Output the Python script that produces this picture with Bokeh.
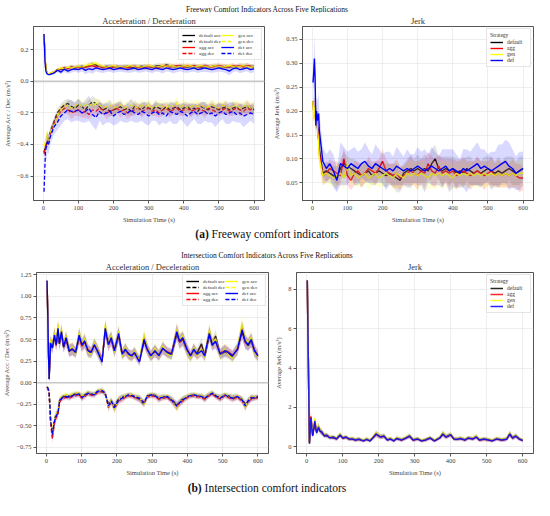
import numpy as np
from bokeh.plotting import figure
from bokeh.models import Range1d, FixedTicker, Legend, LegendItem, Div, Span
from bokeh.layouts import column, row
from bokeh.embed import file_html
from bokeh.resources import INLINE

# ---------------- data ----------------
strategies = ["default", "agg", "gen", "def"]
strategy_colors = ["black", "red", "yellow", "blue"]
band_alphas = [0.10, 0.15, 0.16, 0.15]

fw_t = [2, 4, 6, 8, 10, 12, 14, 16, 18] + list(range(20, 610, 10))

fw_acc_default = [0.30, 0.21, 0.12, 0.075, 0.058, 0.052, 0.049, 0.048, 0.048,
                  0.050, 0.056, 0.070, 0.076, 0.082, 0.086, 0.090, 0.086, 0.090,
                  0.095, 0.090, 0.100, 0.110, 0.105, 0.095, 0.090, 0.096, 0.090, 0.095,
                  0.090, 0.086, 0.092, 0.096, 0.090, 0.086, 0.092, 0.096, 0.090, 0.095,
                  0.090, 0.096, 0.100, 0.094, 0.105, 0.100, 0.094, 0.090, 0.100, 0.095,
                  0.090, 0.096, 0.090, 0.095, 0.090, 0.096, 0.090, 0.095, 0.100, 0.095,
                  0.090, 0.096, 0.090, 0.095, 0.090, 0.100, 0.095, 0.100, 0.095, 0.095]
fw_acc_agg = [0.30, 0.21, 0.12, 0.075, 0.058, 0.052, 0.049, 0.048, 0.049,
              0.052, 0.060, 0.075, 0.080, 0.085, 0.080, 0.090, 0.085, 0.090,
              0.085, 0.090, 0.095, 0.100, 0.090, 0.095, 0.085, 0.090, 0.085, 0.090,
              0.095, 0.085, 0.090, 0.085, 0.090, 0.095, 0.090, 0.085, 0.090, 0.095,
              0.090, 0.085, 0.090, 0.095, 0.100, 0.090, 0.095, 0.100, 0.095, 0.090,
              0.100, 0.095, 0.100, 0.090, 0.095, 0.100, 0.095, 0.090, 0.095, 0.100,
              0.095, 0.090, 0.095, 0.100, 0.095, 0.100, 0.090, 0.100, 0.095, 0.090]
fw_acc_gen = [0.30, 0.21, 0.12, 0.075, 0.058, 0.052, 0.050, 0.049, 0.050,
              0.052, 0.060, 0.075, 0.085, 0.080, 0.090, 0.085, 0.090, 0.095,
              0.090, 0.100, 0.105, 0.110, 0.115, 0.100, 0.095, 0.090, 0.095, 0.100,
              0.090, 0.095, 0.090, 0.095, 0.100, 0.090, 0.095, 0.090, 0.095, 0.100,
              0.095, 0.090, 0.095, 0.100, 0.095, 0.100, 0.095, 0.090, 0.095, 0.100,
              0.095, 0.100, 0.090, 0.095, 0.100, 0.095, 0.090, 0.095, 0.100, 0.095,
              0.090, 0.095, 0.100, 0.095, 0.090, 0.095, 0.100, 0.095, 0.090, 0.095]
fw_acc_def = [0.30, 0.17, 0.09, 0.060, 0.050, 0.046, 0.044, 0.043, 0.043,
              0.045, 0.052, 0.072, 0.058, 0.078, 0.065, 0.075, 0.080, 0.075,
              0.085, 0.070, 0.080, 0.075, 0.085, 0.080, 0.075, 0.080, 0.085, 0.075,
              0.080, 0.085, 0.080, 0.075, 0.080, 0.085, 0.075, 0.080, 0.085, 0.080,
              0.075, 0.085, 0.080, 0.075, 0.085, 0.080, 0.075, 0.080, 0.085, 0.080,
              0.075, 0.080, 0.085, 0.075, 0.080, 0.085, 0.080, 0.075, 0.080, 0.085,
              0.080, 0.075, 0.065, 0.080, 0.085, 0.075, 0.080, 0.085, 0.075, 0.080]
fw_acc_spread_def = [0.010, 0.010, 0.010, 0.008, 0.006, 0.005, 0.005, 0.005, 0.005,
                     0.006, 0.008, 0.012, 0.015, 0.018, 0.016, 0.020, 0.018, 0.022,
                     0.020, 0.024, 0.022, 0.026, 0.020, 0.024, 0.022, 0.020, 0.024, 0.022,
                     0.020, 0.024, 0.022, 0.020, 0.025, 0.022, 0.020, 0.024, 0.022, 0.020,
                     0.024, 0.022, 0.020, 0.025, 0.022, 0.020, 0.024, 0.022, 0.020, 0.024,
                     0.022, 0.020, 0.024, 0.022, 0.020, 0.025, 0.022, 0.020, 0.024, 0.022,
                     0.020, 0.024, 0.026, 0.022, 0.020, 0.024, 0.022, 0.020, 0.024, 0.022]
fw_acc_spread_other = [0.008, 0.008, 0.008, 0.006, 0.005, 0.004, 0.004, 0.004, 0.004,
                       0.005, 0.006, 0.010, 0.012, 0.014, 0.012, 0.015, 0.014, 0.016,
                       0.015, 0.016, 0.018, 0.016, 0.015, 0.017, 0.015, 0.016, 0.018, 0.015,
                       0.016, 0.015, 0.017, 0.016, 0.015, 0.018, 0.016, 0.015, 0.017, 0.016,
                       0.015, 0.017, 0.016, 0.018, 0.015, 0.016, 0.017, 0.015, 0.016, 0.018,
                       0.016, 0.015, 0.017, 0.016, 0.018, 0.015, 0.016, 0.017, 0.015, 0.016,
                       0.018, 0.016, 0.015, 0.017, 0.016, 0.015, 0.018, 0.016, 0.015, 0.016]

fw_dec_default = [-0.45, -0.43, -0.41, -0.40, -0.39, -0.38, -0.37, -0.36, -0.34,
                  -0.32, -0.26, -0.20, -0.17, -0.15, -0.14, -0.16, -0.17, -0.15,
                  -0.16, -0.18, -0.15, -0.13, -0.14, -0.16, -0.18, -0.17, -0.19, -0.18,
                  -0.17, -0.16, -0.18, -0.17, -0.19, -0.16, -0.17, -0.18, -0.16, -0.17,
                  -0.18, -0.16, -0.17, -0.18, -0.16, -0.18, -0.17, -0.16, -0.18, -0.17,
                  -0.16, -0.18, -0.17, -0.19, -0.16, -0.17, -0.18, -0.16, -0.17, -0.18,
                  -0.17, -0.16, -0.18, -0.17, -0.16, -0.18, -0.17, -0.16, -0.17, -0.18]
fw_dec_agg = [-0.46, -0.44, -0.42, -0.40, -0.39, -0.38, -0.37, -0.36, -0.35,
              -0.33, -0.27, -0.22, -0.19, -0.17, -0.18, -0.20, -0.19, -0.18,
              -0.20, -0.19, -0.21, -0.18, -0.19, -0.17, -0.18, -0.20, -0.19, -0.18,
              -0.17, -0.19, -0.18, -0.20, -0.19, -0.18, -0.17, -0.19, -0.18, -0.17,
              -0.19, -0.18, -0.20, -0.18, -0.17, -0.19, -0.18, -0.17, -0.19, -0.18,
              -0.17, -0.19, -0.18, -0.17, -0.18, -0.19, -0.17, -0.18, -0.19, -0.17,
              -0.18, -0.17, -0.19, -0.18, -0.17, -0.18, -0.19, -0.17, -0.18, -0.17]
fw_dec_gen = [-0.41, -0.40, -0.38, -0.36, -0.33, -0.35, -0.38, -0.36, -0.34,
              -0.32, -0.28, -0.22, -0.18, -0.16, -0.15, -0.17, -0.16, -0.14,
              -0.16, -0.15, -0.14, -0.16, -0.14, -0.15, -0.17, -0.16, -0.15, -0.17,
              -0.16, -0.15, -0.17, -0.16, -0.15, -0.16, -0.17, -0.15, -0.16, -0.15,
              -0.17, -0.16, -0.15, -0.16, -0.17, -0.15, -0.16, -0.14, -0.16, -0.15,
              -0.17, -0.16, -0.15, -0.16, -0.15, -0.17, -0.16, -0.15, -0.16, -0.17,
              -0.15, -0.16, -0.17, -0.16, -0.15, -0.17, -0.16, -0.15, -0.17, -0.16]
fw_dec_def = [-0.70, -0.58, -0.45, -0.42, -0.41, -0.38, -0.40, -0.39, -0.37,
              -0.35, -0.29, -0.26, -0.22, -0.20, -0.18, -0.19, -0.19, -0.18,
              -0.20, -0.19, -0.17, -0.21, -0.23, -0.19, -0.21, -0.20, -0.19, -0.22,
              -0.20, -0.19, -0.21, -0.20, -0.18, -0.20, -0.21, -0.19, -0.20, -0.22,
              -0.20, -0.19, -0.21, -0.20, -0.22, -0.19, -0.20, -0.21, -0.19, -0.20,
              -0.22, -0.20, -0.19, -0.21, -0.20, -0.19, -0.21, -0.20, -0.22, -0.20,
              -0.19, -0.21, -0.20, -0.19, -0.21, -0.20, -0.22, -0.21, -0.20, -0.21]
fw_dec_spread_def = [0.02, 0.04, 0.06, 0.07, 0.08, 0.07, 0.06, 0.06, 0.05,
                     0.05, 0.05, 0.05, 0.06, 0.05, 0.06, 0.07, 0.06, 0.07,
                     0.06, 0.07, 0.08, 0.07, 0.08, 0.06, 0.07, 0.06, 0.07, 0.06,
                     0.07, 0.06, 0.05, 0.06, 0.07, 0.06, 0.05, 0.06, 0.07, 0.06,
                     0.05, 0.06, 0.07, 0.06, 0.05, 0.06, 0.07, 0.06, 0.05, 0.06,
                     0.07, 0.06, 0.05, 0.06, 0.07, 0.06, 0.05, 0.06, 0.07, 0.06,
                     0.05, 0.06, 0.07, 0.06, 0.05, 0.06, 0.07, 0.06, 0.05, 0.06]
fw_dec_spread_other = [0.03, 0.03, 0.03, 0.03, 0.03, 0.03, 0.03, 0.03, 0.03,
                       0.03, 0.03, 0.03, 0.03, 0.03, 0.03, 0.04, 0.03, 0.04,
                       0.03, 0.04, 0.03, 0.04, 0.03, 0.04, 0.03, 0.04, 0.03, 0.04,
                       0.03, 0.04, 0.03, 0.04, 0.03, 0.04, 0.03, 0.04, 0.03, 0.04,
                       0.03, 0.04, 0.03, 0.04, 0.03, 0.04, 0.03, 0.04, 0.03, 0.04,
                       0.03, 0.04, 0.03, 0.04, 0.03, 0.04, 0.03, 0.04, 0.03, 0.04,
                       0.03, 0.04, 0.03, 0.04, 0.03, 0.04, 0.03, 0.04, 0.03, 0.04]

fw_jerk_default = [0.22, 0.20, 0.21, 0.20, 0.18, 0.19, 0.17, 0.16, 0.14,
                   0.12, 0.070, 0.075, 0.070, 0.065, 0.060, 0.080, 0.090, 0.085,
                   0.080, 0.075, 0.070, 0.065, 0.070, 0.075, 0.065, 0.070, 0.075, 0.070,
                   0.065, 0.070, 0.065, 0.060, 0.055, 0.070, 0.075, 0.080, 0.075, 0.080,
                   0.075, 0.080, 0.075, 0.090, 0.100, 0.080, 0.075, 0.080, 0.075, 0.080,
                   0.070, 0.075, 0.070, 0.080, 0.075, 0.070, 0.075, 0.070, 0.075, 0.080,
                   0.075, 0.070, 0.075, 0.070, 0.075, 0.080, 0.075, 0.070, 0.075, 0.080]
fw_jerk_agg = [0.22, 0.20, 0.21, 0.19, 0.18, 0.19, 0.17, 0.16, 0.14,
               0.11, 0.065, 0.070, 0.080, 0.075, 0.070, 0.065, 0.100, 0.065,
               0.055, 0.070, 0.075, 0.065, 0.070, 0.080, 0.075, 0.070, 0.080, 0.095,
               0.075, 0.070, 0.065, 0.070, 0.060, 0.065, 0.070, 0.075, 0.070, 0.065,
               0.075, 0.070, 0.090, 0.075, 0.070, 0.085, 0.070, 0.075, 0.070, 0.075,
               0.065, 0.070, 0.075, 0.070, 0.065, 0.070, 0.075, 0.070, 0.065, 0.070,
               0.075, 0.065, 0.070, 0.065, 0.070, 0.065, 0.070, 0.065, 0.060, 0.060]
fw_jerk_gen = [0.22, 0.18, 0.21, 0.20, 0.19, 0.20, 0.17, 0.15, 0.13,
               0.10, 0.065, 0.070, 0.065, 0.060, 0.065, 0.070, 0.060, 0.090,
               0.065, 0.070, 0.060, 0.065, 0.070, 0.060, 0.065, 0.070, 0.060, 0.065,
               0.070, 0.065, 0.060, 0.070, 0.065, 0.060, 0.070, 0.065, 0.070, 0.065,
               0.070, 0.065, 0.060, 0.070, 0.065, 0.070, 0.065, 0.070, 0.065, 0.060,
               0.070, 0.065, 0.070, 0.065, 0.070, 0.065, 0.070, 0.065, 0.070, 0.065,
               0.070, 0.065, 0.070, 0.065, 0.070, 0.065, 0.070, 0.065, 0.070, 0.070]
fw_jerk_def = [0.26, 0.28, 0.31, 0.27, 0.17, 0.20, 0.18, 0.19, 0.195,
               0.16, 0.095, 0.080, 0.090, 0.075, 0.055, 0.090, 0.085, 0.080,
               0.090, 0.085, 0.080, 0.090, 0.095, 0.085, 0.080, 0.090, 0.085, 0.080,
               0.075, 0.080, 0.075, 0.085, 0.080, 0.075, 0.080, 0.075, 0.080, 0.085,
               0.080, 0.075, 0.080, 0.085, 0.080, 0.075, 0.080, 0.085, 0.075, 0.080,
               0.075, 0.070, 0.080, 0.075, 0.080, 0.085, 0.090, 0.080, 0.085, 0.080,
               0.075, 0.080, 0.085, 0.090, 0.095, 0.085, 0.080, 0.070, 0.075, 0.080]
fw_jerk_spread_def = [0.02, 0.03, 0.05, 0.04, 0.03, 0.03, 0.04, 0.04, 0.04,
                      0.04, 0.03, 0.03, 0.03, 0.035, 0.025, 0.045, 0.04, 0.035,
                      0.03, 0.04, 0.035, 0.03, 0.04, 0.035, 0.03, 0.04, 0.035, 0.03,
                      0.04, 0.035, 0.03, 0.04, 0.035, 0.03, 0.04, 0.035, 0.03, 0.04,
                      0.035, 0.045, 0.03, 0.04, 0.035, 0.03, 0.04, 0.035, 0.045, 0.04,
                      0.035, 0.03, 0.04, 0.045, 0.035, 0.04, 0.045, 0.04, 0.035, 0.03,
                      0.04, 0.035, 0.045, 0.04, 0.045, 0.05, 0.04, 0.035, 0.04, 0.035]
fw_jerk_spread_other = [0.02, 0.02, 0.02, 0.02, 0.02, 0.02, 0.02, 0.02, 0.02,
                        0.02, 0.02, 0.02, 0.02, 0.02, 0.025, 0.02, 0.025, 0.02,
                        0.02, 0.025, 0.02, 0.025, 0.02, 0.025, 0.02, 0.025, 0.02, 0.025,
                        0.025, 0.02, 0.025, 0.03, 0.025, 0.02, 0.025, 0.03, 0.025, 0.03,
                        0.025, 0.03, 0.025, 0.03, 0.03, 0.025, 0.03, 0.025, 0.03, 0.025,
                        0.03, 0.025, 0.03, 0.025, 0.03, 0.025, 0.03, 0.025, 0.03, 0.025,
                        0.03, 0.025, 0.03, 0.025, 0.03, 0.025, 0.03, 0.025, 0.03, 0.025]

in_t = [2, 4, 6, 8, 10, 12, 17, 23, 28, 33,
        37, 43, 49, 56, 65, 74, 83, 93, 101, 109,
        118, 127, 136, 145, 158, 167, 176, 184, 193, 205,
        215, 224, 233, 242, 250, 264, 277, 286, 296, 308,
        319, 330, 343, 355, 370, 378, 387, 400, 409, 418,
        427, 440, 449, 462, 471, 480, 493, 506, 515, 528,
        542, 555, 564, 572, 581, 590, 600]

in_acc_default = [1.18, 0.80, 0.35, 0.05, 0.26, 0.47, 0.41, 0.54, 0.45, 0.60,
                  0.45, 0.58, 0.41, 0.51, 0.36, 0.40, 0.34, 0.53, 0.43, 0.49,
                  0.36, 0.34, 0.45, 0.36, 0.26, 0.60, 0.48, 0.51, 0.36, 0.55,
                  0.32, 0.38, 0.34, 0.30, 0.36, 0.27, 0.48, 0.40, 0.30, 0.38,
                  0.32, 0.41, 0.34, 0.32, 0.57, 0.47, 0.50, 0.36, 0.30, 0.38,
                  0.34, 0.45, 0.30, 0.55, 0.43, 0.54, 0.32, 0.36, 0.34, 0.30,
                  0.40, 0.59, 0.47, 0.43, 0.49, 0.36, 0.30]
in_acc_agg = [1.18, 0.80, 0.35, 0.05, 0.27, 0.48, 0.42, 0.56, 0.43, 0.61,
              0.47, 0.57, 0.43, 0.50, 0.38, 0.38, 0.36, 0.54, 0.42, 0.47,
              0.38, 0.36, 0.43, 0.38, 0.27, 0.61, 0.45, 0.50, 0.38, 0.56,
              0.34, 0.38, 0.32, 0.32, 0.34, 0.25, 0.52, 0.38, 0.32, 0.36,
              0.32, 0.39, 0.36, 0.34, 0.60, 0.47, 0.51, 0.38, 0.32, 0.38,
              0.32, 0.38, 0.32, 0.58, 0.45, 0.47, 0.34, 0.38, 0.36, 0.32,
              0.38, 0.63, 0.47, 0.45, 0.49, 0.38, 0.32]
in_acc_gen = [1.18, 0.80, 0.36, 0.06, 0.28, 0.50, 0.43, 0.58, 0.47, 0.68,
              0.48, 0.62, 0.44, 0.55, 0.38, 0.42, 0.33, 0.58, 0.46, 0.52,
              0.35, 0.33, 0.47, 0.38, 0.25, 0.67, 0.46, 0.55, 0.35, 0.60,
              0.30, 0.42, 0.31, 0.30, 0.37, 0.26, 0.56, 0.41, 0.29, 0.40,
              0.30, 0.43, 0.33, 0.31, 0.62, 0.50, 0.55, 0.35, 0.28, 0.41,
              0.31, 0.39, 0.29, 0.61, 0.46, 0.51, 0.31, 0.39, 0.33, 0.28,
              0.41, 0.68, 0.50, 0.46, 0.53, 0.35, 0.30]
in_acc_def = [1.18, 0.80, 0.35, 0.04, 0.25, 0.46, 0.40, 0.55, 0.44, 0.63,
              0.46, 0.59, 0.42, 0.52, 0.37, 0.39, 0.35, 0.55, 0.44, 0.48,
              0.37, 0.35, 0.44, 0.37, 0.24, 0.63, 0.44, 0.52, 0.37, 0.57,
              0.33, 0.39, 0.33, 0.31, 0.35, 0.24, 0.50, 0.39, 0.31, 0.37,
              0.31, 0.40, 0.35, 0.33, 0.59, 0.48, 0.52, 0.37, 0.31, 0.39,
              0.33, 0.37, 0.31, 0.57, 0.44, 0.48, 0.33, 0.37, 0.35, 0.31,
              0.39, 0.61, 0.48, 0.44, 0.50, 0.37, 0.31]
in_acc_spread = [0.02, 0.05, 0.08, 0.05, 0.07, 0.08, 0.07, 0.09, 0.07, 0.10,
                 0.08, 0.09, 0.07, 0.08, 0.07, 0.07, 0.06, 0.09, 0.07, 0.08,
                 0.07, 0.06, 0.07, 0.07, 0.06, 0.10, 0.08, 0.08, 0.07, 0.09,
                 0.06, 0.07, 0.06, 0.06, 0.06, 0.05, 0.08, 0.07, 0.06, 0.07,
                 0.06, 0.07, 0.06, 0.06, 0.09, 0.08, 0.08, 0.07, 0.06, 0.07,
                 0.06, 0.07, 0.06, 0.09, 0.07, 0.08, 0.06, 0.07, 0.06, 0.06,
                 0.07, 0.10, 0.08, 0.07, 0.08, 0.07, 0.06]

in_dec_default = [-0.05, -0.06, -0.08, -0.13, -0.27, -0.44, -0.58, -0.43, -0.36, -0.34,
                  -0.21, -0.17, -0.16, -0.15, -0.16, -0.14, -0.13, -0.14, -0.16, -0.14,
                  -0.12, -0.14, -0.13, -0.11, -0.10, -0.13, -0.25, -0.22, -0.27, -0.19,
                  -0.17, -0.15, -0.15, -0.14, -0.17, -0.19, -0.25, -0.15, -0.15, -0.14,
                  -0.19, -0.16, -0.17, -0.19, -0.26, -0.22, -0.19, -0.17, -0.14, -0.15,
                  -0.16, -0.15, -0.19, -0.13, -0.13, -0.16, -0.17, -0.15, -0.15, -0.17,
                  -0.17, -0.19, -0.25, -0.22, -0.17, -0.18, -0.17]
in_dec_agg = [-0.05, -0.07, -0.09, -0.14, -0.28, -0.46, -0.65, -0.47, -0.40, -0.37,
              -0.23, -0.19, -0.18, -0.17, -0.18, -0.16, -0.15, -0.14, -0.18, -0.16,
              -0.13, -0.14, -0.15, -0.11, -0.10, -0.13, -0.29, -0.22, -0.30, -0.21,
              -0.19, -0.17, -0.15, -0.16, -0.17, -0.19, -0.24, -0.17, -0.15, -0.16,
              -0.19, -0.18, -0.17, -0.21, -0.28, -0.24, -0.21, -0.17, -0.16, -0.15,
              -0.16, -0.17, -0.19, -0.15, -0.13, -0.16, -0.19, -0.15, -0.17, -0.19,
              -0.17, -0.21, -0.28, -0.22, -0.19, -0.18, -0.17]
in_dec_gen = [-0.05, -0.06, -0.07, -0.11, -0.23, -0.40, -0.56, -0.42, -0.35, -0.33,
              -0.20, -0.16, -0.15, -0.14, -0.15, -0.13, -0.12, -0.12, -0.15, -0.13,
              -0.11, -0.12, -0.13, -0.09, -0.08, -0.11, -0.28, -0.20, -0.31, -0.19,
              -0.17, -0.15, -0.13, -0.14, -0.15, -0.17, -0.25, -0.15, -0.13, -0.14,
              -0.17, -0.16, -0.15, -0.19, -0.30, -0.22, -0.19, -0.15, -0.14, -0.13,
              -0.14, -0.15, -0.17, -0.13, -0.11, -0.14, -0.17, -0.13, -0.15, -0.17,
              -0.15, -0.19, -0.29, -0.20, -0.17, -0.16, -0.15]
in_dec_def = [-0.05, -0.06, -0.08, -0.12, -0.25, -0.42, -0.60, -0.45, -0.38, -0.36,
              -0.22, -0.18, -0.17, -0.16, -0.17, -0.15, -0.14, -0.13, -0.17, -0.15,
              -0.12, -0.13, -0.14, -0.10, -0.09, -0.12, -0.27, -0.21, -0.29, -0.20,
              -0.18, -0.16, -0.14, -0.15, -0.16, -0.18, -0.23, -0.16, -0.14, -0.15,
              -0.18, -0.17, -0.16, -0.20, -0.27, -0.23, -0.20, -0.16, -0.15, -0.14,
              -0.15, -0.16, -0.18, -0.14, -0.12, -0.15, -0.18, -0.14, -0.16, -0.18,
              -0.16, -0.20, -0.27, -0.21, -0.18, -0.17, -0.16]
in_dec_spread = [0.01, 0.02, 0.02, 0.03, 0.04, 0.05, 0.06, 0.05, 0.05, 0.04,
                 0.04, 0.03, 0.03, 0.03, 0.03, 0.03, 0.03, 0.03, 0.04, 0.03,
                 0.03, 0.03, 0.03, 0.03, 0.03, 0.03, 0.05, 0.04, 0.05, 0.04,
                 0.04, 0.03, 0.03, 0.03, 0.03, 0.04, 0.04, 0.03, 0.03, 0.03,
                 0.04, 0.03, 0.03, 0.04, 0.05, 0.04, 0.04, 0.03, 0.03, 0.03,
                 0.03, 0.03, 0.04, 0.03, 0.03, 0.03, 0.04, 0.03, 0.03, 0.04,
                 0.03, 0.04, 0.05, 0.04, 0.04, 0.03, 0.03]

in_jerk_default = [8.45, 5.70, 2.90, 0.20, 0.80, 1.50, 0.60, 1.20, 0.75, 1.05,
                   0.85, 0.70, 0.60, 0.55, 0.50, 0.45, 0.42, 0.62, 0.45, 0.48,
                   0.40, 0.42, 0.36, 0.40, 0.32, 0.40, 0.32, 0.48, 0.68, 0.52,
                   0.55, 0.38, 0.42, 0.32, 0.44, 0.36, 0.48, 0.55, 0.36, 0.42,
                   0.32, 0.36, 0.46, 0.32, 0.48, 0.68, 0.52, 0.62, 0.42, 0.40,
                   0.44, 0.36, 0.46, 0.42, 0.52, 0.36, 0.40, 0.36, 0.32, 0.42,
                   0.36, 0.40, 0.66, 0.46, 0.56, 0.42, 0.34]
in_jerk_agg = [8.45, 5.70, 2.90, 0.20, 0.85, 1.55, 0.62, 1.25, 0.78, 1.00,
               0.82, 0.72, 0.58, 0.58, 0.48, 0.48, 0.40, 0.58, 0.44, 0.50,
               0.38, 0.40, 0.34, 0.38, 0.30, 0.38, 0.30, 0.46, 0.62, 0.50,
               0.52, 0.36, 0.40, 0.30, 0.42, 0.34, 0.46, 0.52, 0.34, 0.40,
               0.30, 0.34, 0.44, 0.30, 0.46, 0.64, 0.50, 0.60, 0.40, 0.38,
               0.42, 0.34, 0.44, 0.40, 0.50, 0.34, 0.38, 0.34, 0.30, 0.40,
               0.34, 0.38, 0.64, 0.44, 0.54, 0.40, 0.32]
in_jerk_gen = [8.45, 5.70, 2.90, 0.18, 0.75, 1.40, 0.70, 1.45, 0.80, 1.10,
               0.90, 0.78, 0.62, 0.62, 0.50, 0.52, 0.44, 0.65, 0.48, 0.52,
               0.42, 0.44, 0.38, 0.40, 0.33, 0.42, 0.33, 0.50, 0.72, 0.54,
               0.58, 0.40, 0.44, 0.34, 0.46, 0.38, 0.50, 0.58, 0.38, 0.44,
               0.34, 0.38, 0.48, 0.34, 0.50, 0.72, 0.55, 0.65, 0.44, 0.42,
               0.46, 0.38, 0.48, 0.44, 0.56, 0.38, 0.42, 0.38, 0.34, 0.44,
               0.38, 0.42, 0.70, 0.48, 0.58, 0.44, 0.36]
in_jerk_def = [8.45, 5.70, 2.90, 0.15, 0.70, 1.45, 0.55, 1.30, 0.70, 1.00,
               0.80, 0.75, 0.55, 0.60, 0.45, 0.50, 0.40, 0.60, 0.45, 0.50,
               0.40, 0.40, 0.35, 0.38, 0.30, 0.38, 0.30, 0.45, 0.65, 0.50,
               0.55, 0.35, 0.40, 0.30, 0.42, 0.35, 0.45, 0.55, 0.35, 0.40,
               0.30, 0.35, 0.45, 0.30, 0.45, 0.65, 0.50, 0.62, 0.40, 0.38,
               0.42, 0.35, 0.45, 0.40, 0.50, 0.35, 0.40, 0.35, 0.30, 0.40,
               0.35, 0.38, 0.65, 0.45, 0.55, 0.40, 0.32]
in_jerk_spread = [0.05, 0.10, 0.10, 0.05, 0.15, 0.30, 0.15, 0.25, 0.15, 0.20,
                  0.15, 0.15, 0.12, 0.12, 0.10, 0.10, 0.10, 0.12, 0.10, 0.10,
                  0.10, 0.10, 0.10, 0.10, 0.08, 0.10, 0.08, 0.10, 0.15, 0.12,
                  0.12, 0.10, 0.10, 0.08, 0.10, 0.10, 0.10, 0.12, 0.10, 0.10,
                  0.08, 0.10, 0.10, 0.08, 0.10, 0.15, 0.12, 0.12, 0.10, 0.10,
                  0.10, 0.10, 0.10, 0.10, 0.12, 0.10, 0.10, 0.10, 0.08, 0.10,
                  0.10, 0.10, 0.15, 0.12, 0.12, 0.10, 0.08]

x_ticks = [0, 100, 200, 300, 400, 500, 600]
fw_acc_ticks = [-0.6, -0.4, -0.2, 0.0, 0.2]
fw_jerk_ticks = [0.05, 0.10, 0.15, 0.20, 0.25, 0.30, 0.35]
in_acc_ticks = [-0.75, -0.50, -0.25, 0.00, 0.25, 0.50, 0.75, 1.00, 1.25]
in_jerk_ticks = [0, 2, 4, 6, 8]

FONT = "Liberation Serif"


def tick_label(v, fmt):
    s = fmt.format(v)
    return s.replace("-", "\u2212")


def make_fig(width, height, title, yr, yticks, yfmt, ylabel, mbl, mbr):
    p = figure(width=width, height=height, x_range=Range1d(-27.9, 629.9),
               y_range=Range1d(*yr), output_backend="svg", toolbar_location=None,
               title=title, min_border_left=mbl, min_border_right=mbr,
               min_border_top=2, min_border_bottom=2)
    p.title.align = "center"
    p.title.text_font = FONT
    p.title.text_font_size = "8.5px"
    p.title.text_font_style = "normal"
    p.title.text_color = "#333333"
    p.title.standoff = 2
    p.outline_line_color = "#555555"
    p.outline_line_width = 1
    p.xaxis.ticker = FixedTicker(ticks=x_ticks)
    p.yaxis.ticker = FixedTicker(ticks=yticks)
    p.yaxis.major_label_overrides = {v: tick_label(v, yfmt) for v in yticks}
    p.xaxis.axis_label = "Simulation Time (s)"
    p.yaxis.axis_label = ylabel
    for ax in (p.xaxis[0], p.yaxis[0]):
        ax.major_label_text_font = FONT
        ax.major_label_text_font_size = "6.5px"
        ax.major_label_text_color = "#444444"
        ax.axis_label_text_font = FONT
        ax.axis_label_text_font_size = "6.5px"
        ax.axis_label_text_font_style = "normal"
        ax.axis_label_text_color = "#444444"
        ax.major_tick_out = 3
        ax.major_tick_in = 0
        ax.minor_tick_out = 0
        ax.minor_tick_in = 0
        ax.axis_line_color = "#555555"
        ax.major_tick_line_color = "#555555"
        ax.major_label_standoff = 2
        ax.axis_label_standoff = 3
    p.xgrid.grid_line_color = "#e6e6e6"
    p.ygrid.grid_line_color = "#e6e6e6"
    p.xgrid.grid_line_width = 0.7
    p.ygrid.grid_line_width = 0.7
    return p


def style_legend(leg, ncols):
    leg.ncols = ncols
    leg.location = "top_right"
    leg.label_text_font = FONT
    leg.label_text_font_size = "5px"
    leg.label_text_color = "#333333"
    leg.label_height = 6
    leg.glyph_height = 6
    leg.glyph_width = 13
    leg.label_standoff = 4
    leg.spacing = 0
    leg.padding = 3
    leg.margin = 2
    leg.border_line_color = "#cccccc"
    leg.border_line_width = 0.7
    leg.background_fill_alpha = 0.85


def accdec_panel(p, t, accs, decs, acc_sp, dec_sp, lw):
    zero = Span(location=0, dimension="width", line_color="#c8c8c8", line_width=1.6)
    zero.level = "underlay"
    p.add_layout(zero)
    tt = np.array(t, dtype=float)
    items = []
    for s, c, al, a, d, asp, dsp in zip(strategies, strategy_colors, band_alphas,
                                        accs, decs, acc_sp, dec_sp):
        a = np.array(a); d = np.array(d); asp = np.array(asp); dsp = np.array(dsp)
        p.varea(x=tt, y1=a - asp, y2=a + asp, fill_color=c, fill_alpha=al)
        ra = p.line(tt, a, line_color=c, line_width=lw)
        p.varea(x=tt, y1=d - dsp, y2=d + dsp, fill_color=c, fill_alpha=al)
        rd = p.line(tt, d, line_color=c, line_width=lw, line_dash="4 2")
        items.append(LegendItem(label=s + " acc", renderers=[ra]))
        items.append(LegendItem(label=s + " dec", renderers=[rd]))
    leg = Legend(items=items)
    style_legend(leg, 2)
    p.add_layout(leg)


def jerk_panel(p, t, jerks, sps, lw, line_alpha=1.0):
    tt = np.array(t, dtype=float)
    items = []
    for s, c, al, j, sp in zip(strategies, strategy_colors, band_alphas, jerks, sps):
        j = np.array(j); sp = np.array(sp)
        p.varea(x=tt, y1=j - sp, y2=j + sp, fill_color=c, fill_alpha=al)
        r = p.line(tt, j, line_color=c, line_width=lw, line_alpha=line_alpha)
        items.append(LegendItem(label=s, renderers=[r]))
    leg = Legend(items=items, title="Strategy")
    style_legend(leg, 1)
    leg.title_text_font = FONT
    leg.title_text_font_size = "5.5px"
    leg.title_text_font_style = "normal"
    leg.title_text_color = "#333333"
    leg.title_standoff = 1
    leg.label_text_font_size = "5.5px"
    p.add_layout(leg)


# ---------------- freeway ----------------
f1 = make_fig(270, 213, "Acceleration / Deceleration", (-0.755, 0.348), fw_acc_ticks,
              "{:.1f}", "Average Acc / Dec (m/s\u00b2)", 24, 6)
accdec_panel(f1, fw_t,
             [fw_acc_default, fw_acc_agg, fw_acc_gen, fw_acc_def],
             [fw_dec_default, fw_dec_agg, fw_dec_gen, fw_dec_def],
             [fw_acc_spread_other, fw_acc_spread_other, fw_acc_spread_other, fw_acc_spread_def],
             [fw_dec_spread_other, fw_dec_spread_other, fw_dec_spread_other, fw_dec_spread_def],
             1.3)

f2 = make_fig(264, 213, "Jerk", (0.013, 0.377), fw_jerk_ticks, "{:.2f}",
              "Average Jerk (m/s\u00b3)", 23, 1)
jerk_panel(f2, fw_t, [fw_jerk_default, fw_jerk_agg, fw_jerk_gen, fw_jerk_def],
           [fw_jerk_spread_other, fw_jerk_spread_other, fw_jerk_spread_other, fw_jerk_spread_def],
           1.4)

# ---------------- intersection ----------------
f3 = make_fig(272, 220, "Acceleration / Deceleration", (-0.82, 1.276), in_acc_ticks,
              "{:.2f}", "Average Acc / Dec (m/s\u00b2)", 26, 4)
accdec_panel(f3, in_t,
             [in_acc_default, in_acc_agg, in_acc_gen, in_acc_def],
             [in_dec_default, in_dec_agg, in_dec_gen, in_dec_def],
             [in_acc_spread] * 4, [in_dec_spread] * 4, 1.4)

f4 = make_fig(262, 220, "Jerk", (-0.34, 8.85), in_jerk_ticks, "{:d}",
              "Average Jerk (m/s\u00b3)", 21, 1)
jerk_panel(f4, in_t, [in_jerk_default, in_jerk_agg, in_jerk_gen, in_jerk_def],
           [in_jerk_spread] * 4, 1.5, 0.85)


def text_div(html, height, size, lh):
    return Div(text='<div style="width:534px;text-align:center;font-family:\'Liberation Serif\';'
                    'font-size:%s;line-height:%s;color:#111;white-space:nowrap;margin:0;padding:0;">%s</div>'
                    % (size, lh, html),
               width=534, height=height, margin=0)


sup1 = text_div("Freeway Comfort Indicators Across Five Replications", 12, "7.5px", "10px")
cap1 = text_div("<b>(a)</b> Freeway comfort indicators", 21, "11.5px", "18px")
sup2 = text_div("Intersection Comfort Indicators Across Five Replications", 12, "7.5px", "10px")
cap2 = text_div("<b>(b)</b> Intersection comfort indicators", 22, "11.5px", "20px")

layout = column(sup1, row(f1, f2, spacing=0), cap1, sup2, row(f3, f4, spacing=0), cap2, spacing=0)

open("out.html", "w").write(file_html(layout, INLINE))
